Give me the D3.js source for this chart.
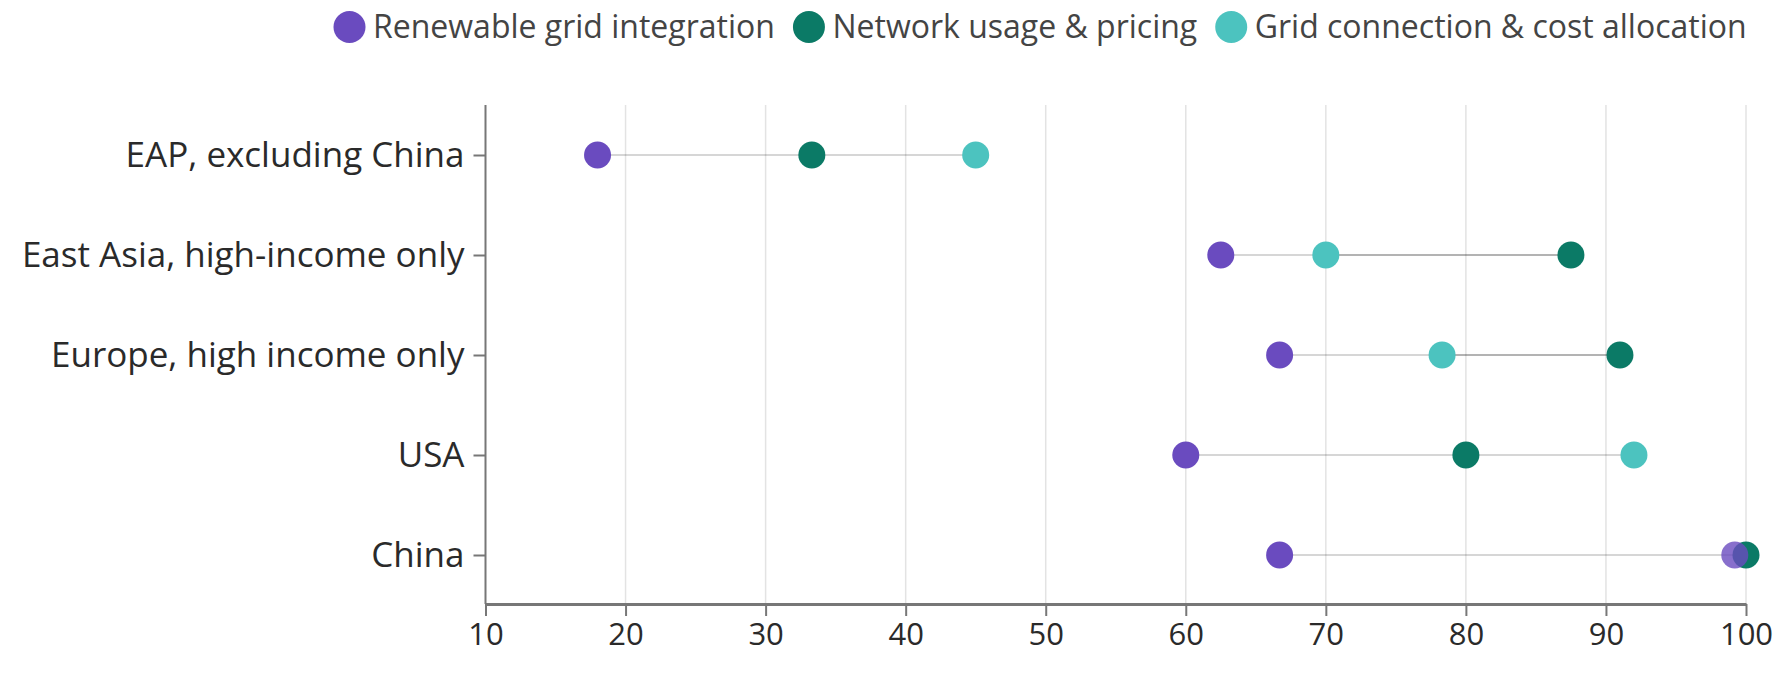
<!DOCTYPE html>
<html>
<head>
<meta charset="utf-8">
<script src="https://cdn.jsdelivr.net/npm/d3@7"></script>
<style>
  body { margin: 0; background: #fff; }
  svg { display: block; font-family: "Open Sans", sans-serif; }
</style>
</head>
<body>
<svg id="chart" width="1786" height="691"></svg>
<script>
// data
var regions = ["EAP, excluding China", "East Asia, high-income only", "Europe, high income only", "USA", "China"];
var seriesNames = ["Renewable grid integration", "Network usage & pricing", "Grid connection & cost allocation"];
var seriesColors = ["#6a4bbf", "#0b7a66", "#4cc3bf"];
var renewable = [18.0, 62.5, 66.7, 60.0, 66.7];
var network = [33.3, 87.5, 91.0, 80.0, 100.0];
var connection = [45.0, 70.0, 78.3, 92.0, 99.2];
// the China connection dot shows in a faded purple in the original
var connectionColors = ["#4cc3bf", "#4cc3bf", "#4cc3bf", "#4cc3bf", "rgba(106,75,191,0.8)"];
var xTicks = [10, 20, 30, 40, 50, 60, 70, 80, 90, 100];

var svg = d3.select("#chart");

var x = d3.scaleLinear().domain([10, 100]).range([485.5, 1746]);
var y = d3.scalePoint().domain(regions).range([105, 605]).padding(0.5);

// grid
svg.append("g").selectAll("line")
    .data(xTicks.slice(1))
  .enter().append("line")
    .attr("x1", function(d) { return x(d); })
    .attr("x2", function(d) { return x(d); })
    .attr("y1", 105)
    .attr("y2", 604)
    .attr("stroke", "#e3e3e3")
    .attr("stroke-width", 1.5);

// axes
var xAxis = svg.append("g")
    .attr("transform", "translate(0,604)")
    .call(d3.axisBottom(x).tickValues(xTicks).tickSize(12).tickSizeOuter(0).tickPadding(7));
xAxis.select(".domain").attr("stroke", "#777").attr("stroke-width", 3);
xAxis.selectAll(".tick line").attr("stroke", "#777").attr("stroke-width", 2);
xAxis.selectAll("text").attr("font-size", 31).attr("fill", "#2a2a2a").attr("font-family", "Open Sans");

var yAxis = svg.append("g")
    .attr("transform", "translate(485.5,0)")
    .call(d3.axisLeft(y).tickSize(12).tickSizeOuter(0).tickPadding(9));
yAxis.select(".domain").attr("stroke", "#777").attr("stroke-width", 2).attr("d", "M0,105V604");
yAxis.selectAll(".tick line").attr("stroke", "#777").attr("stroke-width", 2);
yAxis.selectAll("text").attr("font-size", 35).attr("fill", "#2a2a2a").attr("font-family", "Open Sans");

// range lines: renewable -> network, network -> connection
var rows = regions.map(function(r, i) {
  return { region: r, a: renewable[i], b: network[i], c: connection[i], cc: connectionColors[i] };
});

var lines = svg.append("g");
rows.forEach(function(d) {
  [[d.a, d.b], [d.b, d.c]].forEach(function(seg) {
    lines.append("line")
      .attr("x1", x(seg[0]))
      .attr("x2", x(seg[1]))
      .attr("y1", y(d.region))
      .attr("y2", y(d.region))
      .attr("stroke", "rgba(0,0,0,0.16)")
      .attr("stroke-width", 2);
  });
});

var dots = svg.append("g");
rows.forEach(function(d) {
  dots.append("circle").attr("cx", x(d.a)).attr("cy", y(d.region)).attr("r", 13.5).attr("fill", seriesColors[0]);
  dots.append("circle").attr("cx", x(d.b)).attr("cy", y(d.region)).attr("r", 13.5).attr("fill", seriesColors[1]);
  dots.append("circle").attr("cx", x(d.c)).attr("cy", y(d.region)).attr("r", 13.5).attr("fill", d.cc);
});

// legend, laid out left to right
var lx = 349.5;
seriesNames.forEach(function(name, i) {
  var g = svg.append("g").attr("transform", "translate(" + lx + ",27)");
  g.append("circle").attr("r", 16).attr("fill", seriesColors[i]);
  var t = g.append("text")
    .attr("x", 23.5)
    .attr("dy", "0.35em")
    .attr("font-size", 32)
    .attr("fill", "#444")
    .text(name);
  lx += 23.5 + t.node().getComputedTextLength() + 34;
});
</script>
</body>
</html>
